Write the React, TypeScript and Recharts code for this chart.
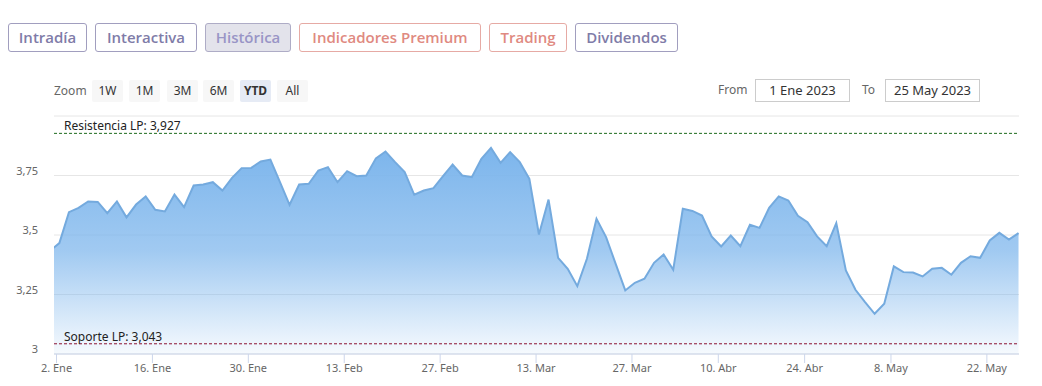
import React from 'react';
import { AreaChart, Area, XAxis, YAxis, CartesianGrid, ReferenceLine } from 'recharts';

// trading days shown on the chart (30 Dic is the clipped point at the left edge)
const eneDays = [2, 3, 4, 5, 6, 9, 10, 11, 12, 13, 16, 17, 18, 19, 20, 23, 24, 25, 26, 27, 30, 31];
const febDays = [1, 2, 3, 6, 7, 8, 9, 10, 13, 14, 15, 16, 17, 20, 21, 22, 23, 24, 27, 28];
const marDays = [1, 2, 3, 6, 7, 8, 9, 10, 13, 14, 15, 16, 17, 20, 21, 22, 23, 24, 27, 28, 29, 30, 31];
const abrDays = [3, 4, 5, 6, 11, 12, 13, 14, 17, 18, 19, 20, 21, 24, 25, 26, 27, 28];
const mayDays = [2, 3, 4, 5, 8, 9, 10, 11, 12, 15, 16, 17, 18, 19, 22, 23, 24, 25];

const dates = [
  '30 Dic',
  ...eneDays.map((d) => `${d} Ene`),
  ...febDays.map((d) => `${d} Feb`),
  ...marDays.map((d) => `${d} Mar`),
  ...abrDays.map((d) => `${d} Abr`),
  ...mayDays.map((d) => `${d} May`),
];

const prices = [
  3.433,
  3.466, 3.596, 3.614, 3.641, 3.639, 3.592, 3.641, 3.574, 3.628, 3.662,
  3.606, 3.599, 3.67, 3.617, 3.708, 3.712, 3.722, 3.687, 3.74, 3.781,
  3.782, 3.809, 3.817, 3.722, 3.627, 3.712, 3.715, 3.771, 3.785, 3.722,
  3.768, 3.747, 3.75, 3.822, 3.851, 3.806, 3.764, 3.669, 3.687, 3.697,
  3.747, 3.796, 3.75, 3.743, 3.82, 3.866, 3.803, 3.848, 3.806, 3.736,
  3.502, 3.649, 3.404, 3.358, 3.285, 3.4, 3.568, 3.491, 3.379, 3.267,
  3.299, 3.316, 3.383, 3.418, 3.354, 3.61, 3.601, 3.582, 3.494, 3.452,
  3.498, 3.453, 3.543, 3.53, 3.614, 3.662, 3.645, 3.581, 3.554, 3.494,
  3.453, 3.55, 3.351, 3.27, 3.218, 3.169, 3.211, 3.368, 3.344, 3.342,
  3.326, 3.358, 3.362, 3.333, 3.383, 3.411, 3.404, 3.477, 3.509, 3.481, 3.508,
];

const tickDates = ['2 Ene', '16 Ene', '30 Ene', '13 Feb', '27 Feb', '13 Mar', '27 Mar', '11 Abr', '24 Abr', '8 May', '22 May'];
const tickLabels = ['2. Ene', '16. Ene', '30. Ene', '13. Feb', '27. Feb', '13. Mar', '27. Mar', '10. Abr', '24. Abr', '8. May', '22. May'];

const yTicks = [3, 3.25, 3.5, 3.75, 4];
const yLabels = ['3', '3,25', '3,5', '3,75', ''];

const resistance = 3.927;
const support = 3.043;

const tabs = [
  { label: 'Intradía', left: 8, width: 79, kind: 'plain' },
  { label: 'Interactiva', left: 95, width: 102, kind: 'plain' },
  { label: 'Histórica', left: 205, width: 86, kind: 'active' },
  { label: 'Indicadores Premium', left: 299, width: 182, kind: 'premium' },
  { label: 'Trading', left: 489, width: 78, kind: 'premium' },
  { label: 'Dividendos', left: 575, width: 103, kind: 'plain' },
];

const zoomButtons = ['1W', '1M', '3M', '6M', 'YTD', 'All'];
const zoomLefts = [92, 129, 167, 203, 240, 277];

const data = prices.map((v, idx) => ({ i: idx - 1, date: dates[idx], price: v }));
const xTicks = tickDates.map((d) => dates.indexOf(d) - 1 - 0.3);

const FONT = '"Noto Sans", "DejaVu Sans", sans-serif';

const YTick = (props: any) => {
  const { y, index } = props;
  const label = yLabels[index] ?? '';
  if (!label) return <g />;
  return (
    <text x={38} y={y} dy={-1} textAnchor="end" fill="#666" fontSize={11} fontFamily={FONT}>
      {label}
    </text>
  );
};

const RefLabel = (props: any) => {
  const { viewBox, text } = props;
  if (!viewBox) return null;
  return (
    <text x={viewBox.x + 10} y={viewBox.y - 3} fill="#222" fontSize={12} fontFamily={FONT}>
      {text}
    </text>
  );
};

function Tab({ label, left, width, kind }: { label: string; left: number; width: number; kind: string }) {
  const premium = kind === 'premium';
  const active = kind === 'active';
  return (
    <div
      style={{
        position: 'absolute',
        left,
        top: 23,
        width,
        height: 29,
        boxSizing: 'border-box',
        border: `1px solid ${premium ? '#e6aaa4' : active ? '#aeacc6' : '#a19ebf'}`,
        borderRadius: 3,
        background: active ? '#e3e3eb' : '#fff',
        color: premium ? '#df8a81' : active ? '#9995c6' : '#7f7ca8',
        fontFamily: '"Open Sans", sans-serif',
        fontWeight: 600,
        fontSize: 15,
        lineHeight: '27px',
        textAlign: 'center',
      }}
    >
      {label}
    </div>
  );
}

export default function App() {
  return (
    <div style={{ position: 'relative', width: 1042, height: 386, background: '#fff', overflow: 'hidden' }}>
      <style>{'body{margin:0}'}</style>
      {tabs.map((t) => (
        <Tab key={t.label} {...t} />
      ))}

      <div style={{ position: 'absolute', left: 54, top: 81, lineHeight: '20px', fontSize: 12, color: '#666', fontFamily: FONT }}>
        Zoom
      </div>
      {zoomButtons.map((b, k) => (
        <div
          key={b}
          style={{
            position: 'absolute',
            left: zoomLefts[k],
            top: 80,
            width: 31,
            height: 22,
            borderRadius: 2,
            background: b === 'YTD' ? '#e6ebf5' : '#f7f7f7',
            color: '#333',
            fontWeight: b === 'YTD' ? 700 : 400,
            fontSize: 12,
            lineHeight: '21px',
            textAlign: 'center',
            fontFamily: FONT,
          }}
        >
          {b}
        </div>
      ))}

      <div style={{ position: 'absolute', left: 718, top: 80, lineHeight: '20px', fontSize: 12, color: '#666', fontFamily: FONT }}>
        From
      </div>
      <div
        style={{
          position: 'absolute',
          left: 755,
          top: 79,
          width: 95,
          height: 23,
          boxSizing: 'border-box',
          border: '1px solid #ccc',
          fontSize: 13,
          lineHeight: '21px',
          textAlign: 'center',
          color: '#333',
          fontFamily: FONT,
        }}
      >
        1 Ene 2023
      </div>
      <div style={{ position: 'absolute', left: 862, top: 80, lineHeight: '20px', fontSize: 12, color: '#666', fontFamily: FONT }}>
        To
      </div>
      <div
        style={{
          position: 'absolute',
          left: 885,
          top: 79,
          width: 95,
          height: 23,
          boxSizing: 'border-box',
          border: '1px solid #ccc',
          fontSize: 13,
          lineHeight: '21px',
          textAlign: 'center',
          color: '#333',
          fontFamily: FONT,
        }}
      >
        25 May 2023
      </div>

      <div style={{ position: 'absolute', left: 0, top: 100 }}>
        <AreaChart width={1042} height={286} data={data} margin={{ top: 16, right: 23, left: 0, bottom: 2 }}>
          <defs>
            <linearGradient id="priceFill" x1="0" y1="0" x2="0" y2="1">
              <stop offset="0%" stopColor="#7cb5ec" stopOpacity={1} />
              <stop offset="50%" stopColor="#7cb5ec" stopOpacity={0.72} />
              <stop offset="100%" stopColor="#7cb5ec" stopOpacity={0.07} />
            </linearGradient>
          </defs>
          <CartesianGrid vertical={false} stroke="#e6e6e6" />
          <XAxis
            dataKey="i"
            type="number"
            domain={[-0.56, 100.05]}
            allowDataOverflow
            ticks={xTicks}
            interval={0}
            height={30}
            tickFormatter={(_v: number, idx: number) => tickLabels[idx]}
            tick={{ fill: '#666', fontSize: 11, fontFamily: FONT }}
            axisLine={{ stroke: '#ccd6eb' }}
            tickLine={{ stroke: '#ccd6eb' }}
            tickSize={9}
            tickMargin={1}
          />
          <YAxis
            type="number"
            domain={[3, 4]}
            ticks={yTicks}
            interval={0}
            width={54}
            axisLine={false}
            tickLine={false}
            tick={<YTick />}
          />
          <Area
            type="linear"
            dataKey="price"
            stroke="#74aade"
            strokeWidth={2}
            fill="url(#priceFill)"
            fillOpacity={1}
            dot={false}
            activeDot={false}
            isAnimationActive={false}
          />
          <ReferenceLine
            y={resistance}
            stroke="#1e6b1e"
            strokeDasharray="3 2"
            strokeWidth={1}
            label={<RefLabel text="Resistencia LP: 3,927" />}
          />
          <ReferenceLine
            y={support}
            stroke="#8c1233"
            strokeDasharray="3 2"
            strokeWidth={1}
            label={<RefLabel text="Soporte LP: 3,043" />}
          />
        </AreaChart>
      </div>
    </div>
  );
}
